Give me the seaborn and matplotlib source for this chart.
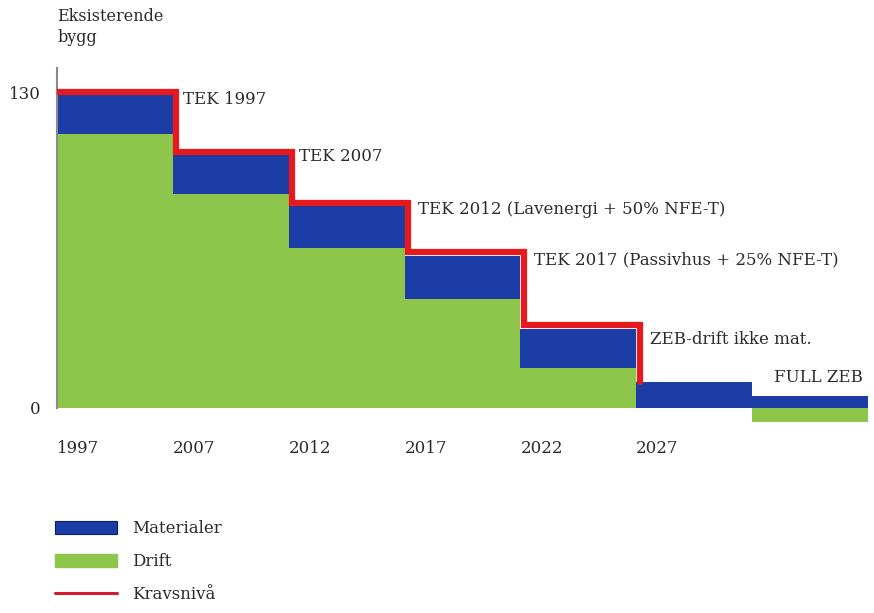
"""Stepped chart of energy requirement levels (TEK) for Norwegian buildings."""

import matplotlib

matplotlib.use("Agg")

import matplotlib.pyplot as plt
import numpy as np
import pandas as pd
import seaborn as sns
from matplotlib.lines import Line2D
from matplotlib.patches import Patch

# Data.
periods = ["1997", "2007", "2012", "2017", "2022", "2027", "ZEB"]
tick_labels = ["1997", "2007", "2012", "2017", "2022", "2027"]
drift = [113, 88, 66, 45, 16.5, 0, -6]
materialer = [16, 16.5, 17, 17.5, 16, 10.5, 5]
kravsniva = [130, 105.5, 84.5, 64, 34, 10.5]

step_labels = [
    "TEK 1997",
    "TEK 2007",
    "TEK 2012 (Lavenergi + 50% NFE-T)",
    "TEK 2017 (Passivhus + 25% NFE-T)",
    "ZEB-drift ikke mat.",
    "FULL ZEB",
]
label_y = [127, 103.5, 81.5, 61, 28, 12.5]
label_x = [0.59, 1.59, 2.62, 3.62, 4.62, 5.69]

BLUE = "#1c3ca6"
NAVY = "#0c1f6a"
GREEN = "#8dc64b"
RED = "#e6191e"
TEXT = "#2b2b2b"


def main() -> None:
    sns.set_theme(style="white")
    plt.rcParams["font.family"] = ["DejaVu Serif", "DejaVu Sans"]

    df = pd.DataFrame({"periode": periods, "drift": drift, "materialer": materialer})
    df["topp"] = df["drift"].clip(lower=0) + df["materialer"]

    fig = plt.figure(figsize=(8.74, 6.13), dpi=100)
    ax = fig.add_axes([57 / 874, (613 - 432) / 613, 1 - 57 / 874, (432 - 68) / 613])

    # Blue bars reach the total, green drift bars are drawn over them.
    sns.barplot(data=df, x="periode", y="topp", order=periods, color=BLUE,
                saturation=1, width=1, linewidth=0, ax=ax)
    sns.barplot(data=df, x="periode", y="drift", order=periods, color=GREEN,
                saturation=1, width=1, linewidth=0, ax=ax)

    # Requirement level as a step line over the first columns.
    step_x = np.arange(len(kravsniva)) - 0.5 + 0.03
    step_x[0] = -0.5
    ax.plot(step_x, kravsniva, drawstyle="steps-post", color=RED, lw=4.5,
            solid_joinstyle="miter", zorder=5)

    for x, y, txt in zip(label_x, label_y, step_labels):
        ax.text(x, y, txt, ha="left", va="center", fontsize=12, color=TEXT)

    ax.set_xlim(-0.5, 6.552)
    ax.set_ylim(-10, 140)
    ax.set_xlabel("")
    ax.set_ylabel("")
    ax.set_xticks(np.arange(len(tick_labels)) - 0.5, labels=tick_labels)
    for lab in ax.get_xticklabels():
        lab.set_horizontalalignment("left")
    ax.set_yticks([0, 130], labels=["0", "130"])
    ax.tick_params(axis="both", length=0, labelsize=12, labelcolor=TEXT)
    ax.tick_params(axis="x", pad=6)
    ax.tick_params(axis="y", pad=12)

    for side in ["top", "right", "bottom"]:
        ax.spines[side].set_visible(False)
    ax.spines["left"].set_color("#8a8a8a")
    ax.spines["left"].set_linewidth(1.5)
    ax.spines["left"].set_bounds(0, 140)

    fig.text(57 / 874, 1 - 8 / 613, "Eksisterende\nbygg", ha="left", va="top",
             fontsize=11.5, color=TEXT, linespacing=1.3)

    handles = [
        Patch(facecolor=BLUE, edgecolor=NAVY, linewidth=0.8),
        Patch(facecolor=GREEN, edgecolor=GREEN),
        Line2D([], [], color="#d01c2c", lw=2.2),
    ]
    fig.legend(handles, ["Materialer", "Drift", "Kravsnivå"], loc="upper left",
               bbox_to_anchor=(47 / 874, 1 - 512 / 613), frameon=False,
               fontsize=12, handlelength=3.7, handleheight=0.8,
               handletextpad=0.9, labelspacing=0.95, borderpad=0,
               labelcolor=TEXT)

    fig.savefig("out.png", dpi=100)


if __name__ == "__main__":
    main()
